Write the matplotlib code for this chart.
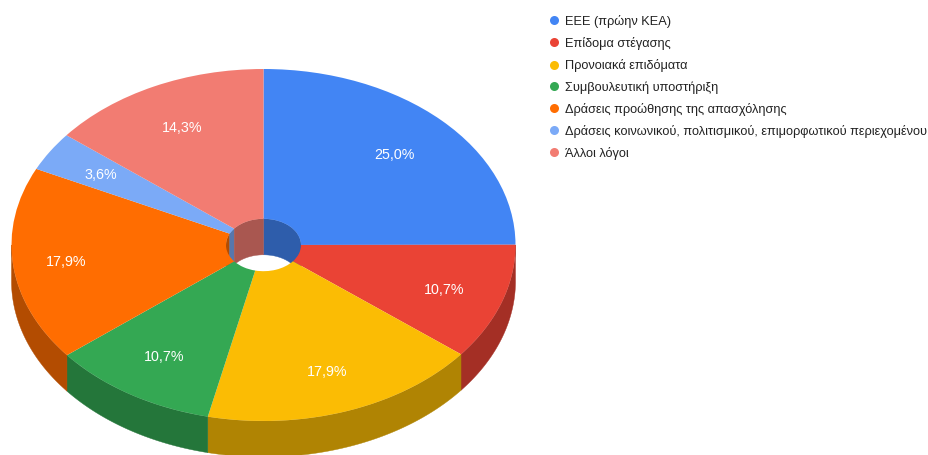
import matplotlib
matplotlib.use("Agg")
import matplotlib.pyplot as plt
from matplotlib.colors import to_rgb
from matplotlib.lines import Line2D
from matplotlib.patches import Polygon
import numpy as np

plt.rcParams["font.family"] = ["Liberation Sans", "DejaVu Sans"]

# values as printed on the slices
categories = ["ΕΕΕ (πρώην ΚΕΑ)", "Επίδομα στέγασης", "Προνοιακά επιδόματα",
              "Συμβουλευτική υποστήριξη", "Δράσεις προώθησης της απασχόλησης",
              "Δράσεις κοινωνικού, πολιτισμικού, επιμορφωτικού περιεχομένου",
              "Άλλοι λόγοι"]
values = [25.0, 10.7, 17.9, 10.7, 17.9, 3.6, 14.3]
value_labels = ["25,0%", "10,7%", "17,9%", "10,7%", "17,9%", "3,6%", "14,3%"]
colors = ["#4285F4", "#EA4335", "#FBBC04", "#34A853", "#FF6D01", "#7BAAF7", "#F27C72"]

# pie geometry in pixels of the 929x455 figure
W, H = 929, 455
CX, CY = 263.5, 245.0
RX, RY = 252.0, 176.0
DEPTH = 36.0 / RY    # in pie units
HOLE = 37.5 / RX
SHADE = 0.7
# how far out each slice label sits, as a fraction of the radius
label_radii = [0.736, 0.757, 0.758, 0.744, 0.788, 0.76, 0.744]
LABEL_DROP = 1.3 / RY

fig = plt.figure(figsize=(W / 100, H / 100), dpi=100)
ax = fig.add_axes([0, 0, 1, 1])

wedges, _ = ax.pie(values, colors=colors, startangle=90, counterclock=False,
                   radius=1, wedgeprops=dict(width=1 - HOLE, linewidth=0))

# stretch the unit circle into the tilted ellipse
ax.set_aspect("auto")
ax.set_xlim(-CX / RX, (W - CX) / RX)
ax.set_ylim((CY - H) / RY, CY / RY)
ax.axis("off")


def band(t1, t2, r, color):
    # side wall of radius r between the angles t1 and t2, in degrees
    if t2 <= t1:
        return
    t = np.radians(np.linspace(t1, t2, 80))
    x, y = r * np.cos(t), r * np.sin(t)
    pts = np.r_[np.c_[x, y], np.c_[x, y - DEPTH][::-1]]
    ax.add_patch(Polygon(pts, closed=True, facecolor=color, edgecolor=color,
                         linewidth=0.3, zorder=0))


for w, c, txt, lr in zip(wedges, colors, value_labels, label_radii):
    dark = tuple(SHADE * v for v in to_rgb(c))
    t1, t2 = w.theta1, w.theta2
    # the angles run from 90 down to -270 or the same shifted by a full turn
    if t2 > 90:
        t1, t2 = t1 - 360, t2 - 360
    # outer wall shows on the front half
    band(max(t1, -180), min(t2, 0), 1, dark)
    # inner wall of the hole shows on the back half
    band(max(t1, 0), min(t2, 90), HOLE, dark)
    band(max(t1, -270), min(t2, -180), HOLE, dark)
    mid = np.radians((t1 + t2) / 2)
    ax.text(lr * np.cos(mid), lr * np.sin(mid) - LABEL_DROP, txt, color="white",
            fontsize=10.3, ha="center", va="center")

handles = [Line2D([], [], linestyle="none", marker="o", markersize=6.5,
                  markerfacecolor=c, markeredgewidth=0) for c in colors]
ax.legend(handles, categories, loc="upper left", bbox_to_anchor=(546.3 / W, 1 - 14.8 / H),
          bbox_transform=fig.transFigure, frameon=False, fontsize=9.23,
          labelcolor="#222222", borderpad=0, borderaxespad=0, handlelength=1.2,
          handletextpad=0.26, labelspacing=0.71)

fig.savefig("out.png", dpi=100)
